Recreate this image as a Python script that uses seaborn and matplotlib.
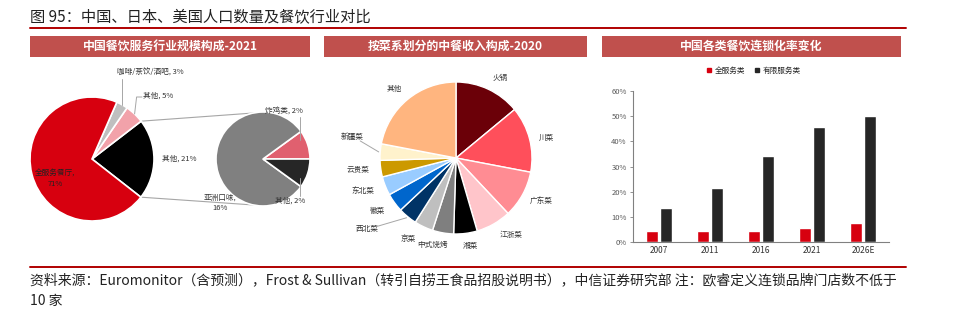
import numpy as np
import pandas as pd
import matplotlib
matplotlib.use("Agg")
import matplotlib.pyplot as plt
import seaborn as sns
from matplotlib.patches import Rectangle
from matplotlib.lines import Line2D

# ---------------- data ----------------
p1_labels = ["其他, 21%", "其他, 5%", "咖啡/茶饮/酒吧, 3%", "全服务餐厅,\n71%"]
p1_values = [21, 5, 3, 71]
p1_colors = ["#000000", "#F2A2AA", "#BFBFBF", "#D7000F"]

p1b_labels = ["炸鸡类, 2%", "亚洲口味,\n16%", "其他, 2%"]
p1b_values = [2, 16, 2]
p1b_colors = ["#E0606F", "#808080", "#262626"]

cuisines = ["火锅", "川菜", "广东菜", "江浙菜", "湘菜", "中式烧烤", "京菜",
            "西北菜", "徽菜", "东北菜", "云贵菜", "新疆菜", "其他"]
cuisine_share = [14, 14, 10, 7.5, 5, 4.5, 4, 4, 4, 4, 3.5, 3.5, 22]
cuisine_colors = ["#6B0008", "#FF4F5B", "#FF8C93", "#FFC5CA", "#000000", "#7F7F7F",
                  "#BFBFBF", "#003366", "#0066CC", "#99CCFF", "#CC9900", "#FFF2CC", "#FFB57F"]

years = ["2007", "2011", "2016", "2021", "2026E"]
full_service = [4.2, 4.4, 4.4, 5.5, 7.4]
limited_service = [13.5, 21.6, 34.3, 45.6, 50.2]
series_names = ["全服务类", "有限服务类"]
bar_colors = ["#D7000F", "#262626"]

title = "图 95：中国、日本、美国人口数量及餐饮行业对比"
panel_titles = ["中国餐饮服务行业规模构成-2021", "按菜系划分的中餐收入构成-2020", "中国各类餐饮连锁化率变化"]
footer1 = "资料来源：Euromonitor（含预测），Frost & Sullivan（转引自捞王食品招股说明书），中信证券研究部 注：欧睿定义连锁品牌门店数不低于"
footer2 = "10 家"

# ---------------- style ----------------
sns.set_theme(style="white")
plt.rcParams['font.family'] = ['Noto Sans CJK SC', 'DejaVu Sans']
plt.rcParams['axes.unicode_minus'] = False

W, H = 960, 326
fig = plt.figure(figsize=(W / 100, H / 100), dpi=100)
fig.patch.set_facecolor("white")

ov = fig.add_axes([0, 0, 1, 1])
ov.set_zorder(0)

def Y(py):
    return H - py

TXT = "#333333"
LBL = 5.5

# title + rules
ov.text(30, Y(17), title, fontsize=11, color="#222222", va="center", ha="left")
ov.plot([30, 906], [Y(27.5), Y(27.5)], color="#B00000", lw=1.4)
ov.plot([30, 906], [Y(266.5), Y(266.5)], color="#B00000", lw=1.4)
ov.text(30, Y(280), footer1, fontsize=10, color="#222222", va="center", ha="left")
ov.text(30, Y(301), footer2, fontsize=10, color="#222222", va="center", ha="left")

# panel headers
for (x0, x1), t in zip([(30, 310), (324, 587), (602, 901)], panel_titles):
    ov.add_patch(Rectangle((x0, Y(57)), x1 - x0, 21, facecolor="#C0504D", edgecolor="none"))
    ov.text((x0 + x1) / 2, Y(46.5), t, color="white", fontsize=8.6, fontweight="bold",
            ha="center", va="center")

# ---------------- pie 1 (bar-of-pie style) ----------------
c1 = (92, Y(159)); r1 = 62
w1, _ = ov.pie(p1_values, colors=p1_colors, startangle=-38, counterclock=True,
               center=c1, radius=r1, wedgeprops=dict(edgecolor="white", linewidth=1.2))
c2 = (263, Y(159)); r2 = 47
w2, _ = ov.pie(p1b_values, colors=p1b_colors, startangle=0, counterclock=True,
               center=c2, radius=r2, wedgeprops=dict(edgecolor="white", linewidth=1.2))

def rim(c, r, ang):
    a = np.deg2rad(ang)
    return c[0] + r * np.cos(a), c[1] + r * np.sin(a)

# connector lines from the black wedge to the small pie
pa = rim(c1, r1, w1[0].theta2); pb = rim(c1, r1, w1[0].theta1)
qa = rim(c2, r2, 102); qb = rim(c2, r2, 258)
ov.plot([pa[0], qa[0]], [pa[1], qa[1]], color="#A6A6A6", lw=0.8, zorder=0)
ov.plot([pb[0], qb[0]], [pb[1], qb[1]], color="#A6A6A6", lw=0.8, zorder=0)

# labels pie 1
g = rim(c1, r1, (w1[2].theta1 + w1[2].theta2) / 2)
ov.plot([g[0], g[0]], [g[1], Y(79)], color="#A6A6A6", lw=0.7)
ov.text(117, Y(73), p1_labels[2], fontsize=LBL, color=TXT, ha="left", va="center")
pk = rim(c1, r1, (w1[1].theta1 + w1[1].theta2) / 2)
ov.plot([pk[0], pk[0] + 2, 142], [pk[1], Y(97), Y(97)], color="#A6A6A6", lw=0.7)
ov.text(143, Y(96), p1_labels[1], fontsize=LBL, color=TXT, ha="left", va="center")
ov.text(162, Y(159), p1_labels[0], fontsize=LBL, color=TXT, ha="left", va="center")
ov.text(55, Y(179), p1_labels[3], fontsize=LBL, color="#222222", ha="center", va="center",
        linespacing=1.3)

# labels small pie
pz = rim(c2, r2, (w2[0].theta1 + w2[0].theta2) / 2)
ov.plot([300, 300], [pz[1] + 4, Y(117)], color="#A6A6A6", lw=0.7)
ov.text(265, Y(112), p1b_labels[0], fontsize=LBL, color=TXT, ha="left", va="center")
pq = rim(c2, r2, (w2[2].theta1 + w2[2].theta2) / 2)
ov.plot([300, 300], [pq[1] - 4, Y(196)], color="#A6A6A6", lw=0.7)
ov.text(275, Y(201), p1b_labels[2], fontsize=LBL, color=TXT, ha="left", va="center")
ov.text(220, Y(203), p1b_labels[1], fontsize=LBL, color=TXT, ha="center", va="center",
        linespacing=1.3)

# ---------------- pie 2 ----------------
c3 = (456, Y(158)); r3 = 76
w3, _ = ov.pie(cuisine_share, colors=cuisine_colors, startangle=90, counterclock=False,
               center=c3, radius=r3, wedgeprops=dict(edgecolor="white", linewidth=1.0))
dist = [1.2, 1.22, 1.26, 1.25, 1.17, 1.18, 1.24, 1.5, 1.24, 1.3, 1.3, 1.4, 1.22]
shift = [-4, -2, 2, 6, 2, -5, -5, -12, -2, -2, -1, -7, 2]
for i, w in enumerate(w3):
    mid = (w.theta1 + w.theta2) / 2
    tx, ty = rim(c3, r3 * dist[i], mid + shift[i])
    ov.text(tx, ty, cuisines[i], fontsize=LBL, color=TXT, ha="center", va="center")
    if cuisines[i] in ("新疆菜", "西北菜"):
        sx, sy = rim(c3, r3 * 1.02, mid)
        ex, ey = rim(c3, r3 * (dist[i] - 0.12), mid + shift[i] * 0.8)
        ov.plot([sx, ex], [sy, ey], color="#A6A6A6", lw=0.7)

ov.set_xlim(0, W); ov.set_ylim(0, H)
ov.set_aspect("auto")
ov.axis("off")

# ---------------- bar chart ----------------
bx = fig.add_axes([633 / W, (H - 242) / H, (889 - 633) / W, (242 - 91) / H])
df = pd.DataFrame({
    "year": years * 2,
    "value": full_service + limited_service,
    "series": [series_names[0]] * len(years) + [series_names[1]] * len(years),
})
sns.barplot(data=df, x="year", y="value", hue="series", palette=bar_colors,
            width=0.55, gap=0.15, saturation=1, ax=bx, legend=False)
bx.set_ylim(0, 60)
bx.set_xlim(-0.5, len(years) - 0.5)
bx.set_yticks(range(0, 61, 10))
bx.set_yticklabels([f"{v}%" for v in range(0, 61, 10)], fontsize=5.5, color="#595959")
bx.tick_params(axis="x", labelsize=6, colors="#333333", length=0, pad=3)
bx.tick_params(axis="y", length=2.5, width=0.6, color="#808080", pad=2, left=True)
bx.set_xlabel(""); bx.set_ylabel("")
for s in ["top", "right"]:
    bx.spines[s].set_visible(False)
for s in ["left", "bottom"]:
    bx.spines[s].set_color("#808080")
    bx.spines[s].set_linewidth(0.8)
bx.set_facecolor("none")
handles = [Line2D([0], [0], marker="s", color="none", markerfacecolor=c,
                  markeredgecolor=c, markersize=3.5) for c in bar_colors]
bx.legend(handles, series_names, loc="center", bbox_to_anchor=(0.47, (242 - 71) / (242 - 91)),
          ncol=2, frameon=False, fontsize=5.5, handlelength=0.8, handletextpad=0.3,
          columnspacing=1.2)

fig.savefig("out.png", dpi=100)
